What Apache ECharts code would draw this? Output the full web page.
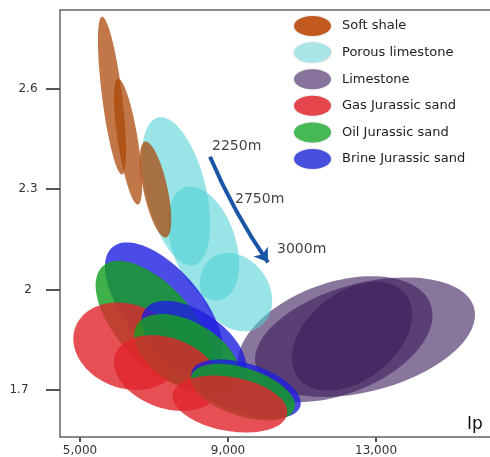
<!DOCTYPE html>
<html>
<head>
<meta charset="utf-8">
<script src="https://cdn.jsdelivr.net/npm/echarts@6/dist/echarts.min.js"></script>
<style>
  html, body { margin: 0; padding: 0; background: #fff; }
  #chart { width: 490px; height: 457px; }
</style>
</head>
<body>
<div id="chart"></div>
<script>
// Each cloud: [Ip at one end of long axis, density there, Ip at other end, density there, half-width across the long axis (Ip units)]
// Row order within each facies: 2250 m, 2750 m, 3000 m
const softShale       = [[5595, 2.815, 6135, 2.344, 270], [6027, 2.630, 6568, 2.254, 270], [6757, 2.442, 7324, 2.156, 324]];
const porousLimestone = [[7108, 2.514, 8081, 2.073, 811], [7838, 2.305, 8838, 1.971, 865], [8568, 2.095, 9865, 1.890, 892]];
const limestone       = [[9308, 1.748, 14476, 1.956, 1511], [9754, 1.771, 15651, 1.945, 1459], [10903, 1.736, 13800, 1.986, 1189]];
const gasSand         = [[4873, 1.887, 7668, 1.775, 1135], [5954, 1.807, 8749, 1.695, 946], [7511, 1.689, 10597, 1.628, 730]];
const oilSand         = [[5616, 2.070, 8438, 1.724, 1027], [6535, 1.894, 9249, 1.721, 865], [8016, 1.744, 10795, 1.644, 649]];
const brineSand       = [[5881, 2.127, 8659, 1.762, 1027], [6751, 1.940, 9411, 1.735, 865], [8022, 1.756, 10951, 1.651, 676]];

const faciesNames = ['Soft shale', 'Porous limestone', 'Limestone', 'Gas Jurassic sand', 'Oil Jurassic sand', 'Brine Jurassic sand'];

// Burial-depth annotation and trend arrow
const depthLabels   = ['2250m', '2750m', '3000m'];
const depthLabelIp  = [8568, 9189, 10324];
const depthLabelRho = [2.427, 2.269, 2.120];
const trendArrow    = [[8514, 2.397], [10081, 2.0815]];

// Axis ranges and ticks
const ipRange  = [4460, 16080];
const rhoRange = [1.56, 2.835];
const ipTicks  = [5000, 9000, 13000];
const rhoTicks = [1.7, 2, 2.3, 2.6];

const FONT = 'DejaVu Sans';

// Cloud fills (translucent) and the solid key swatches
const cloudColors = {
  'Soft shale': 'rgba(172,72,8,0.74)',
  'Porous limestone': 'rgba(80,208,212,0.58)',
  'Limestone': 'rgba(58,27,90,0.6)',
  'Gas Jurassic sand': 'rgba(224,36,42,0.8)',
  'Oil Jurassic sand': 'rgba(22,160,34,0.82)',
  'Brine Jurassic sand': 'rgba(30,30,224,0.8)'
};
const keyColors = {
  'Soft shale': '#c25a20',
  'Porous limestone': '#a9e5e7',
  'Limestone': '#87739b',
  'Gas Jurassic sand': '#e5464c',
  'Oil Jurassic sand': '#46b955',
  'Brine Jurassic sand': '#4650dc'
};

// Draws one elliptical cloud through the cartesian scales; zBase/zStep control stacking
function ellipseRenderer(zBase, zStep) {
  return function (params, api) {
    const p1 = api.coord([api.value(0), api.value(1)]);
    const p2 = api.coord([api.value(2), api.value(3)]);
    const cx = (p1[0] + p2[0]) / 2, cy = (p1[1] + p2[1]) / 2;
    const dx = (p2[0] - p1[0]) / 2, dy = (p2[1] - p1[1]) / 2;
    const a = Math.hypot(dx, dy);
    const ux = dx / a, uy = dy / a;
    const b = api.size([api.value(4), 0])[0];
    const pts = [];
    const n = 120;
    for (let i = 0; i < n; i++) {
      const t = (i / n) * Math.PI * 2;
      const c = Math.cos(t), s = Math.sin(t);
      pts.push([cx + ux * a * c - uy * b * s, cy + uy * a * c + ux * b * s]);
    }
    return {
      type: 'polygon',
      z2: zBase + params.dataIndex * zStep,
      shape: { points: pts },
      style: { fill: api.visual('color') }
    };
  };
}

function cloudSeries(name, data, zBase, zStep) {
  return {
    type: 'custom',
    name: name,
    data: data,
    renderItem: ellipseRenderer(zBase, zStep),
    itemStyle: { color: cloudColors[name] },
    silent: true,
    animation: false
  };
}

const chart = echarts.init(document.getElementById('chart'), null, { renderer: 'canvas' });

chart.setOption({
  animation: false,
  backgroundColor: '#fff',
  grid: { left: 60, right: 0, top: 10, bottom: 19, containLabel: false },
  xAxis: [
    {
      type: 'value',
      min: ipRange[0], max: ipRange[1],
      axisLine: { show: true, lineStyle: { color: '#666', width: 1.5 } },
      axisTick: { show: true, customValues: ipTicks, length: 5, lineStyle: { color: '#555', width: 2 } },
      axisLabel: {
        show: true, customValues: ipTicks, margin: 8,
        color: '#333', fontSize: 12, fontFamily: FONT,
        formatter: v => v.toLocaleString('en-US')
      },
      splitLine: { show: false }
    },
    {
      type: 'value', position: 'top',
      min: ipRange[0], max: ipRange[1],
      axisLine: { show: true, lineStyle: { color: '#666', width: 1.5 } },
      axisTick: { show: false }, axisLabel: { show: false }, splitLine: { show: false }
    }
  ],
  yAxis: {
    type: 'value',
    min: rhoRange[0], max: rhoRange[1],
    axisLine: { show: true, lineStyle: { color: '#666', width: 1.5 } },
    axisTick: { show: true, customValues: rhoTicks, length: 14, lineStyle: { color: '#555', width: 2 } },
    axisLabel: {
      show: true, customValues: rhoTicks, margin: 32, align: 'center',
      color: '#333', fontSize: 12, fontFamily: FONT,
      formatter: v => (v < 1.8 ? '{low|' + v + '}' : String(v)),
      rich: { low: { color: '#333', fontSize: 12, fontFamily: FONT, padding: [0, 18, 0, 0] } }
    },
    splitLine: { show: false }
  },
  legend: {
    data: faciesNames.map(n => ({ name: n, itemStyle: { color: keyColors[n] } })),
    orient: 'vertical',
    left: 294, top: 16,
    padding: 0,
    itemWidth: 37, itemHeight: 20, itemGap: 6.6,
    icon: 'path://M0,10a18.5,10 0 1,0 37,0a18.5,10 0 1,0 -37,0',
    selectedMode: false,
    itemStyle: { shadowBlur: 2, shadowColor: 'rgba(0,0,0,0.25)' },
    textStyle: { color: '#222', fontSize: 13, fontFamily: FONT, padding: [0, 0, 0, 6] }
  },
  graphic: [
    { type: 'text', left: 467, top: 416, style: { text: 'Ip', fill: '#111', font: '17px "DejaVu Sans"' } }
  ],
  series: [
    cloudSeries('Limestone', limestone, 0, 1),
    cloudSeries('Porous limestone', porousLimestone, 10, 1),
    cloudSeries('Soft shale', softShale, 20, 1),
    cloudSeries('Brine Jurassic sand', brineSand, 100, 10),
    cloudSeries('Oil Jurassic sand', oilSand, 101, 10),
    cloudSeries('Gas Jurassic sand', gasSand, 102, 10),
    {
      type: 'lines',
      coordinateSystem: 'cartesian2d',
      silent: true,
      symbol: ['none', 'arrow'],
      symbolSize: 13,
      lineStyle: { color: '#1b56a6', width: 4, curveness: -0.05, opacity: 1 },
      data: [{ coords: trendArrow }],
      z: 5
    },
    {
      type: 'scatter',
      silent: true,
      symbolSize: 0,
      data: depthLabels.map((t, i) => ({ name: t, value: [depthLabelIp[i], depthLabelRho[i]] })),
      label: {
        show: true, position: 'right', distance: 0, formatter: '{b}',
        color: '#111', fontSize: 14, fontFamily: FONT
      },
      z: 5
    }
  ]
});
</script>
</body>
</html>
